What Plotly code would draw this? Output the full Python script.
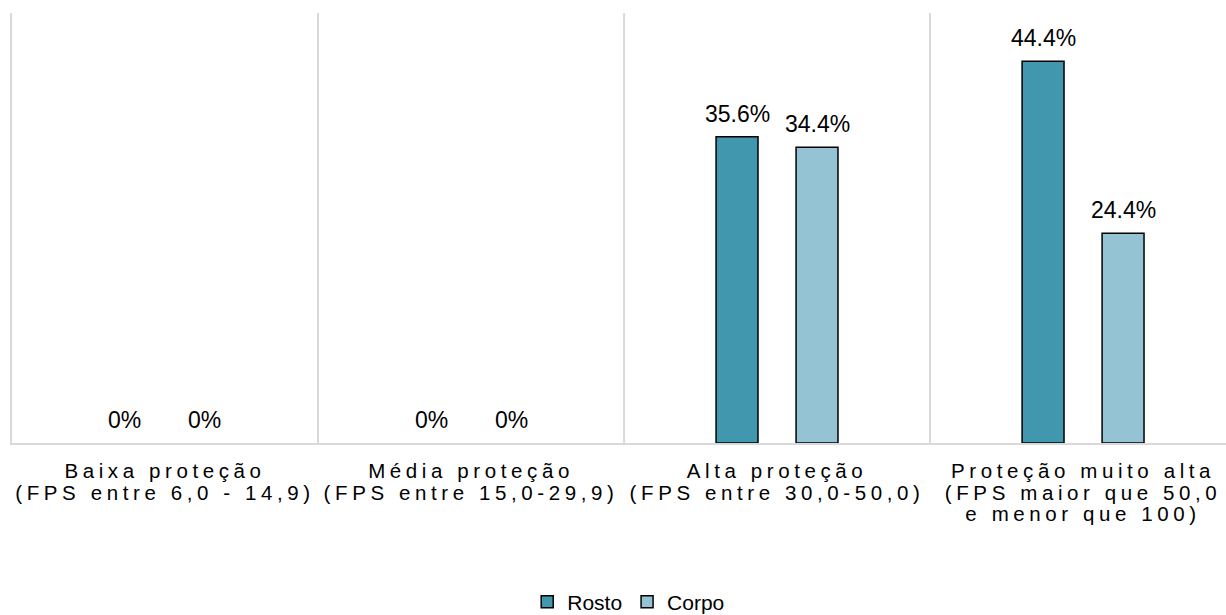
import plotly.graph_objects as go

# Sunscreen protection levels (share of respondents, %)
categories = [
    "Baixa proteção<br>(FPS entre 6,0 - 14,9)",
    "Média proteção<br>(FPS entre 15,0-29,9)",
    "Alta proteção<br>(FPS entre 30,0-50,0)",
    "Proteção muito alta<br>(FPS maior que 50,0<br>e menor que 100)",
]
rosto = [0.0, 0.0, 35.6, 44.4]
corpo = [0.0, 0.0, 34.4, 24.4]
series_names = ["Rosto", "Corpo"]
label_texts_rosto = ["0%", "0%", "35.6%", "44.4%"]
label_texts_corpo = ["0%", "0%", "34.4%", "24.4%"]

FONT = "Liberation Sans, Arial, sans-serif"
COLORS = ["#4198AE", "#94C4D4"]
BAR_W = 0.137
OFFSETS = [-0.1993, 0.0621]

x = list(range(len(categories)))
fig = go.Figure()

for name, vals, color, off in zip(series_names, [rosto, corpo], COLORS, OFFSETS):
    fig.add_trace(go.Bar(
        name=name,
        x=x,
        # zero shares get no visible bar (only their label)
        y=[v if v > 0 else None for v in vals],
        width=BAR_W,
        offset=off,
        marker=dict(color=color, line=dict(color="#000000", width=1.5)),
        hoverinfo="skip",
    ))

# value labels above each bar
annotations = []
for vals, texts, off in zip([rosto, corpo], [label_texts_rosto, label_texts_corpo], OFFSETS):
    for i, (v, t) in enumerate(zip(vals, texts)):
        annotations.append(dict(
            x=i + off + BAR_W / 2, y=v, xref="x", yref="y",
            text=t, showarrow=False, yanchor="bottom", yshift=8,
            font=dict(family=FONT, size=23, color="#000000"),
        ))

# vertical separators between categories
shapes = []
for b in [0.5, 1.5, 2.5, 3.5]:
    shapes.append(dict(
        type="line", xref="x", yref="y", x0=b, x1=b, y0=0, y1=50,
        line=dict(color="#D9D9D9", width=2), layer="below",
    ))

fig.update_layout(
    width=1226,
    height=615,
    margin=dict(l=12, r=0, t=13, b=172, autoexpand=False),
    paper_bgcolor="#FFFFFF",
    plot_bgcolor="#FFFFFF",
    barmode="overlay",
    font=dict(family=FONT, color="#000000"),
    annotations=annotations,
    shapes=shapes,
    showlegend=True,
    legend=dict(
        orientation="h", x=0.508, xanchor="center", y=-0.370, yanchor="middle",
        font=dict(family=FONT, size=21, color="#000000"),
        itemwidth=30, traceorder="normal",
    ),
    xaxis=dict(
        range=[-0.5, 3.467],
        tickvals=x,
        ticktext=categories,
        tickfont=dict(family=FONT, size=20.5, color="#000000"),
        ticks="",
        ticklabelstandoff=8,
        showgrid=False,
        zeroline=False,
        showline=True,
        linecolor="#D9D9D9",
        linewidth=2,
        fixedrange=True,
        automargin=False,
    ),
    yaxis=dict(
        range=[0, 50],
        showticklabels=False,
        showgrid=False,
        zeroline=False,
        showline=True,
        linecolor="#D9D9D9",
        linewidth=2,
        fixedrange=True,
        automargin=False,
    ),
)

# spaced lettering and tighter line pitch for the category labels
label_style = """
document.querySelectorAll('.xtick text').forEach(function (t) {
    t.style.letterSpacing = '4.6px';
    t.querySelectorAll('tspan.line').forEach(function (ln, k) {
        ln.setAttribute('dy', (k * 1.07) + 'em');
    });
});
"""

fig.write_html("out.html", config={"displayModeBar": False}, post_script=label_style)
